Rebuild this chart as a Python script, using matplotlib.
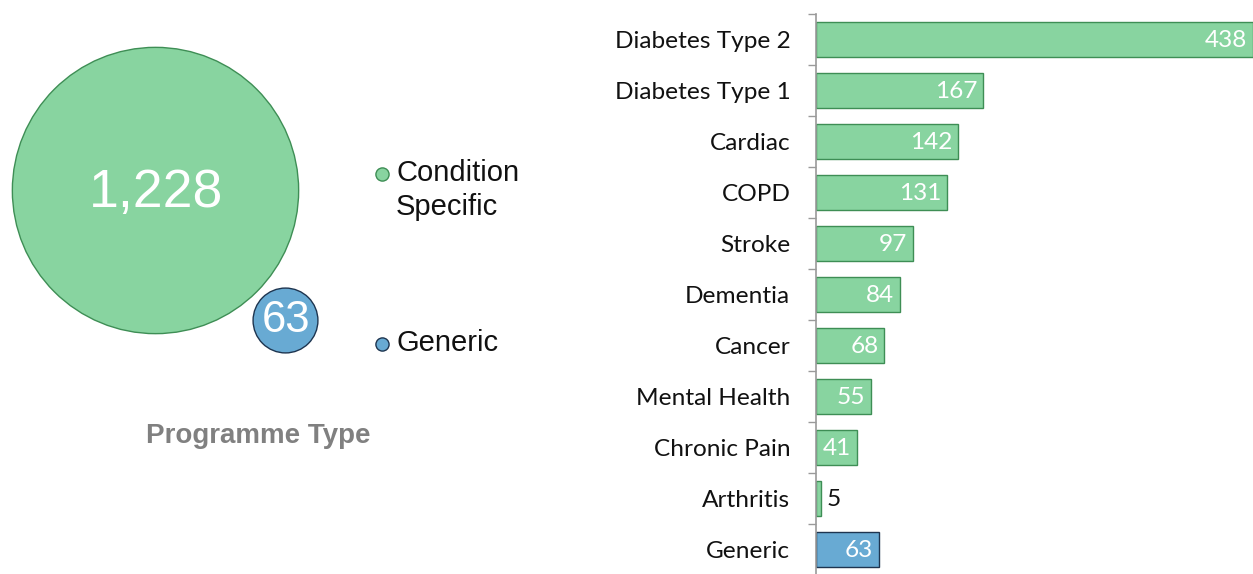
import matplotlib
matplotlib.use("Agg")
import matplotlib.pyplot as plt

# ---- data ----
programme_types = ["Condition Specific", "Generic"]
programme_counts = [1228, 63]

conditions = ["Diabetes Type 2", "Diabetes Type 1", "Cardiac", "COPD", "Stroke",
              "Dementia", "Cancer", "Mental Health", "Chronic Pain", "Arthritis", "Generic"]
condition_counts = [438, 167, 142, 131, 97, 84, 68, 55, 41, 5, 63]
condition_groups = ["Condition Specific"] * 10 + ["Generic"]

# ---- styles ----
GREEN, GREEN_EDGE = "#88D4A0", "#3E8E55"
BLUE, BLUE_EDGE = "#68AAD3", "#1E3550"
fills = {"Condition Specific": GREEN, "Generic": BLUE}
edges = {"Condition Specific": GREEN_EDGE, "Generic": BLUE_EDGE}

W, H = 1253, 574
fig = plt.figure(figsize=(W / 100, H / 100), dpi=100)

# ---- bubble chart (left) ----
axb = fig.add_axes([0, 0, 0.45, 1])
axb.set_xlim(0, 0.45 * W)
axb.set_ylim(H, 0)
axb.axis("off")
bubble_xy = [(155, 190), (285, 320)]
k = 34.6  # points^2 per unit
for name, cnt, (x, y) in zip(programme_types, programme_counts, bubble_xy):
    axb.scatter([x], [y], s=cnt * k, color=fills[name], edgecolor=edges[name],
                linewidth=1.0, zorder=2 if name == "Generic" else 1)
axb.text(156, 193, f"{programme_counts[0]:,}", color="white", fontsize=38.5,
         ha="center", va="center", family="Liberation Sans")
axb.text(286, 321, f"{programme_counts[1]:,}", color="white", fontsize=31.5,
         ha="center", va="center", family="Liberation Sans", zorder=3)

# legend
leg_y = [174, 344]
for name, y in zip(programme_types, leg_y):
    axb.scatter([382], [y], s=90, color=fills[name], edgecolor=edges[name], linewidth=1.0)
axb.text(396, 190, "Condition\nSpecific", fontsize=21, va="center", ha="left",
         family="Liberation Sans", color="#111111", linespacing=1.3)
axb.text(396, 343, "Generic", fontsize=21, va="center", ha="left",
         family="Liberation Sans", color="#111111")
axb.text(258, 436, "Programme Type", fontsize=20, fontweight="bold", color="#808080",
         ha="center", va="center", family="Liberation Sans")

# ---- bar chart (right) ----
left_px, top_px, bottom_px = 816, 14, 575
ax = fig.add_axes([left_px / W, 1 - bottom_px / H, (W - left_px) / W, (bottom_px - top_px) / H])
ypos = list(range(len(conditions)))
ax.barh(ypos, condition_counts, height=0.67,
        color=[fills[g] for g in condition_groups],
        edgecolor=[edges[g] for g in condition_groups], linewidth=1.0)
ax.set_xlim(0, 438)
ax.set_ylim(len(conditions) - 0.5, -0.5)
ax.set_yticks(ypos)
ax.set_yticklabels(conditions, family="Lato", fontsize=17.6, color="#111111")
ax.tick_params(axis="y", which="major", length=0, pad=18.5)
ax.set_yticks([i - 0.5 for i in range(len(conditions) + 1)], minor=True)
ax.tick_params(axis="y", which="minor", length=6, color="#9a9a9a", width=1)
ax.set_xticks([])
for s in ["top", "right", "bottom"]:
    ax.spines[s].set_visible(False)
ax.spines["left"].set_color("#9a9a9a")
ax.spines["left"].set_linewidth(1.2)
for i, v in enumerate(condition_counts):
    if v >= 20:
        ax.annotate(f"{v}", (v, i), xytext=(-4, -1), textcoords="offset points",
                    ha="right", va="center", color="white", fontsize=17.6, family="Lato")
    else:
        ax.annotate(f"{v}", (v, i), xytext=(4, -1), textcoords="offset points",
                    ha="left", va="center", color="#111111", fontsize=17.6, family="Lato")

fig.savefig("out.png", dpi=100)
